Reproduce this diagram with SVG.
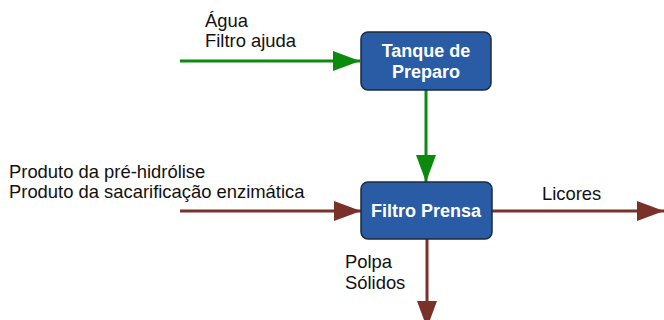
<svg xmlns="http://www.w3.org/2000/svg" width="664" height="320" viewBox="0 0 664 320">
<style>
.box{fill:#2A5CA6;stroke:#1E2A40;stroke-width:1.5}
.bt{font-family:"Liberation Sans",Arial,sans-serif;font-weight:bold;font-size:18px;fill:#FFFFFF;text-anchor:middle}
.t{font-family:"Liberation Sans",Arial,sans-serif;font-size:18.4px;fill:#111111}
.g{stroke:#0B8A0B;stroke-width:3;fill:none;marker-end:url(#ag)}
.b{stroke:#7A3129;stroke-width:3;fill:none;marker-end:url(#ab)}
</style>
<defs>
<marker id="ag" markerUnits="userSpaceOnUse" markerWidth="27" markerHeight="20" refX="27" refY="10" orient="auto"><path d="M0,0 L27,10 L0,20 z" fill="#0B8A0B"/></marker>
<marker id="ab" markerUnits="userSpaceOnUse" markerWidth="27" markerHeight="20" refX="27" refY="10" orient="auto"><path d="M0,0 L27,10 L0,20 z" fill="#7A3129"/></marker>
</defs>
<rect width="664" height="320" fill="#FFFFFF"/>
<g id="connectors">
<line class="g" x1="180" y1="61" x2="360" y2="61"/>
<line class="g" x1="426" y1="90" x2="426" y2="182"/>
<line class="b" x1="180" y1="211" x2="361" y2="211"/>
<line class="b" x1="492" y1="211" x2="664" y2="211"/>
<line class="b" x1="427" y1="239" x2="427" y2="328"/>
</g>
<g id="labels">
<text class="t" x="205" y="27">Água</text>
<text class="t" x="205" y="47">Filtro ajuda</text>
<text class="t" x="9" y="178">Produto da pré-hidrólise</text>
<text class="t" x="9" y="198">Produto da sacarificação enzimática</text>
<text class="t" x="542" y="200">Licores</text>
<text class="t" x="345" y="268">Polpa</text>
<text class="t" x="345" y="289">Sólidos</text>
</g>
<g id="tanque">
<rect class="box" x="361" y="32" width="130" height="58" rx="7"/>
<text class="bt" x="426" y="57">Tanque de</text>
<text class="bt" x="426" y="78">Preparo</text>
</g>
<g id="filtro">
<rect class="box" x="361" y="182" width="131" height="57" rx="7"/>
<text class="bt" x="426" y="217">Filtro Prensa</text>
</g>
</svg>
